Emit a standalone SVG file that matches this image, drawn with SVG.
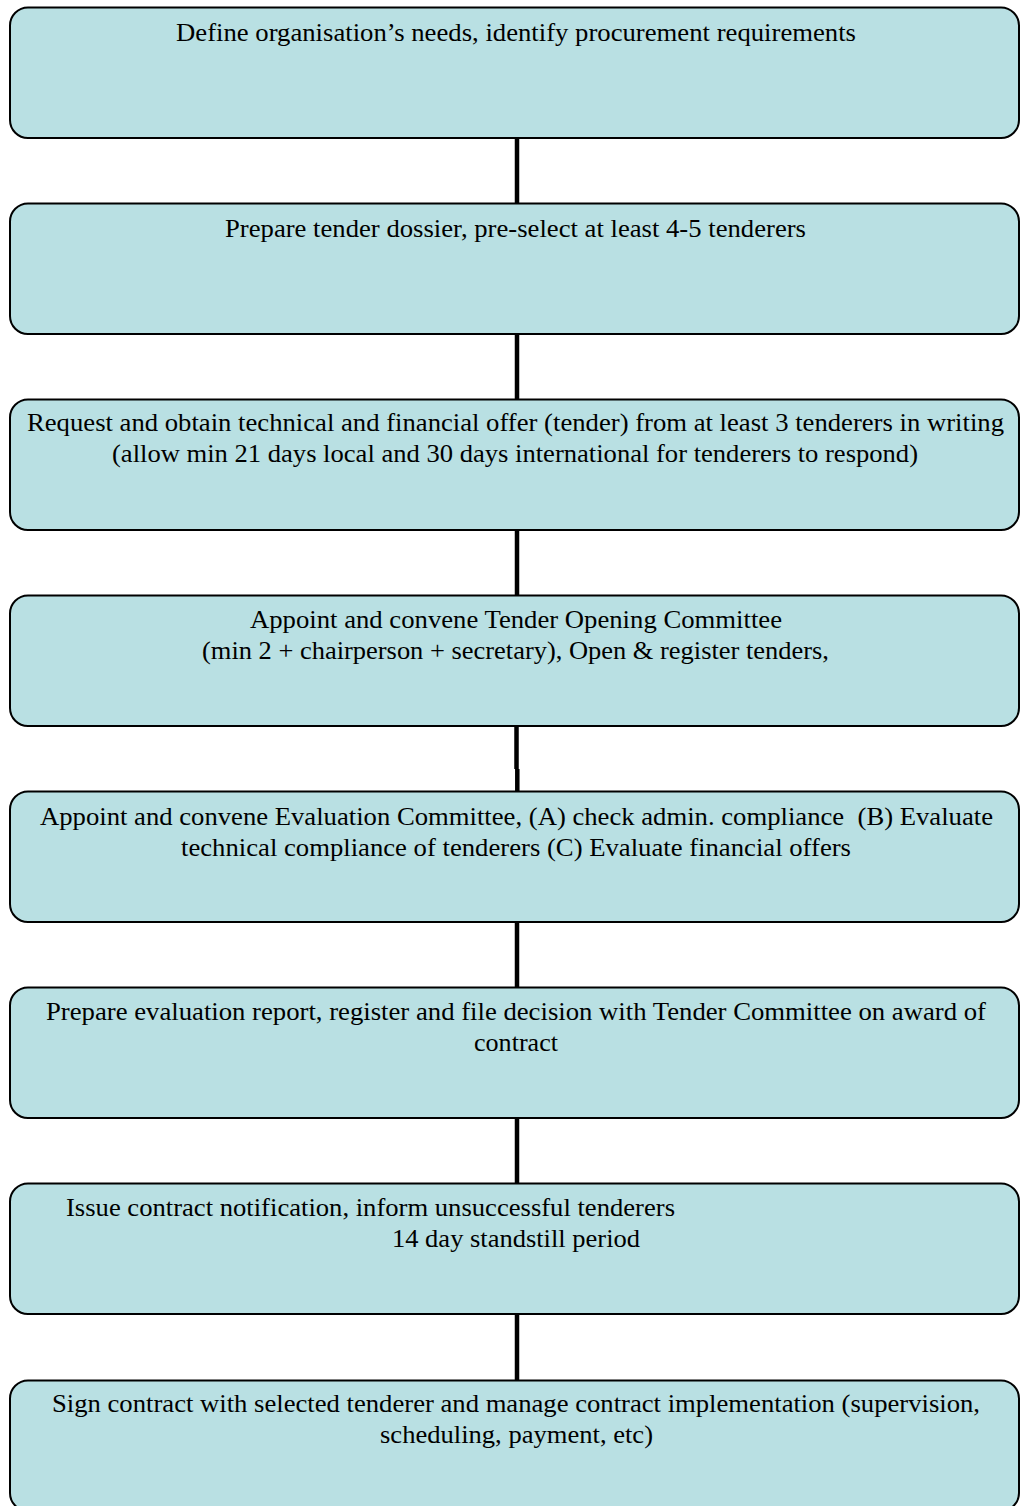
<svg xmlns="http://www.w3.org/2000/svg" width="1020" height="1506" viewBox="0 0 1020 1506">
  <style>
    .box { fill: #b9e0e3; stroke: #000; stroke-width: 2; }
    .link { stroke: #000; stroke-width: 4.5; fill: none; }
    text { font-family: "Liberation Serif", "Times New Roman", "DejaVu Serif", serif; font-size: 26px; fill: #000; }
  </style>
  <rect width="1020" height="1506" fill="#fff"/>

  <!-- vertical connectors between consecutive steps -->
  <g id="connectors">
    <line class="link" x1="517" y1="138" x2="517" y2="204"/>
    <line class="link" x1="517" y1="334" x2="517" y2="400"/>
    <line class="link" x1="517" y1="530" x2="517" y2="596"/>
    <path class="link" d="M516.5 726 V769 M517.3 769 V792"/>
    <line class="link" x1="517" y1="922" x2="517" y2="988"/>
    <line class="link" x1="517" y1="1118" x2="517" y2="1184"/>
    <line class="link" x1="517" y1="1314" x2="517" y2="1380"/>
  </g>

  <g id="step1">
    <rect class="box" x="10" y="7.5" width="1009" height="130.5" rx="18"/>
    <text x="176" y="41" textLength="680" lengthAdjust="spacingAndGlyphs">Define organisation’s needs, identify procurement requirements</text>
  </g>

  <g id="step2">
    <rect class="box" x="10" y="203.5" width="1009" height="130.5" rx="18"/>
    <text x="225" y="237" textLength="581" lengthAdjust="spacingAndGlyphs">Prepare tender dossier, pre-select at least 4-5 tenderers</text>
  </g>

  <g id="step3">
    <rect class="box" x="10" y="399.5" width="1009" height="130.5" rx="18"/>
    <text x="27" y="431" textLength="977" lengthAdjust="spacingAndGlyphs">Request and obtain technical and financial offer (tender) from at least 3 tenderers in writing</text>
    <text x="112" y="462" textLength="806" lengthAdjust="spacingAndGlyphs">(allow min 21 days local and 30 days international for tenderers to respond)</text>
  </g>

  <g id="step4">
    <rect class="box" x="10" y="595.5" width="1009" height="130.5" rx="18"/>
    <text x="250" y="628" textLength="532" lengthAdjust="spacingAndGlyphs">Appoint and convene Tender Opening Committee</text>
    <text x="202" y="659" textLength="627" lengthAdjust="spacingAndGlyphs">(min 2 + chairperson + secretary), Open &amp; register tenders,</text>
  </g>

  <g id="step5">
    <rect class="box" x="10" y="791.5" width="1009" height="130.5" rx="18"/>
    <text x="40" y="825" textLength="953" lengthAdjust="spacingAndGlyphs" xml:space="preserve">Appoint and convene Evaluation Committee, (A) check admin. compliance  (B) Evaluate</text>
    <text x="181" y="856" textLength="670" lengthAdjust="spacingAndGlyphs">technical compliance of tenderers (C) Evaluate financial offers</text>
  </g>

  <g id="step6">
    <rect class="box" x="10" y="987.5" width="1009" height="130.5" rx="18"/>
    <text x="46" y="1020" textLength="940" lengthAdjust="spacingAndGlyphs">Prepare evaluation report, register and file decision with Tender Committee on award of</text>
    <text x="474" y="1051" textLength="84" lengthAdjust="spacingAndGlyphs">contract</text>
  </g>

  <g id="step7">
    <rect class="box" x="10" y="1183.5" width="1009" height="130.5" rx="18"/>
    <text x="66" y="1216" textLength="609" lengthAdjust="spacingAndGlyphs">Issue contract notification, inform unsuccessful tenderers</text>
    <text x="392" y="1247" textLength="248" lengthAdjust="spacingAndGlyphs">14 day standstill period</text>
  </g>

  <g id="step8">
    <rect class="box" x="10" y="1380.5" width="1009" height="130.5" rx="18"/>
    <text x="52" y="1412" textLength="928" lengthAdjust="spacingAndGlyphs">Sign contract with selected tenderer and manage contract implementation (supervision,</text>
    <text x="380" y="1443" textLength="273" lengthAdjust="spacingAndGlyphs">scheduling, payment, etc)</text>
  </g>
</svg>
